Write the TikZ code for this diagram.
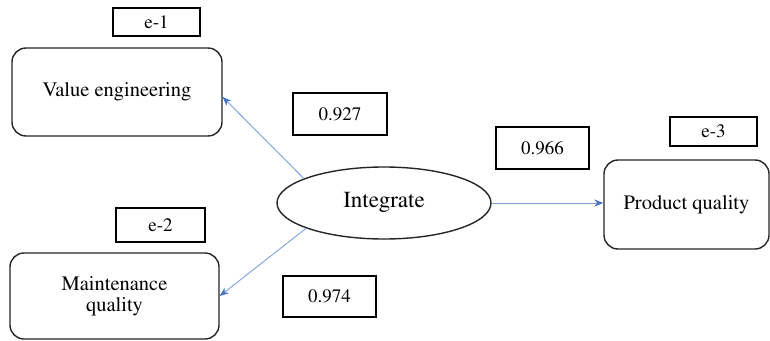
\documentclass[tikz,border=0pt]{standalone}
\usepackage[T1]{fontenc}
\usepackage{times}
\usetikzlibrary{shapes.geometric,arrows.meta,calc}
\definecolor{arrline}{RGB}{125,160,218}
\definecolor{arrhead}{RGB}{68,114,196}
\begin{document}
\begin{tikzpicture}[x=1pt,y=-1pt,
  lbl/.style={draw=black,line width=1.1pt,inner sep=0pt,font=\rmfamily\fontsize{19}{22}\selectfont},
  var/.style={draw=black!85,line width=1.4pt,rounded corners=14pt,inner sep=0pt,align=center,font=\rmfamily\fontsize{20.5}{21}\selectfont},
  lat/.style={draw=black!85,line width=1.4pt,ellipse,inner sep=0pt,font=\rmfamily\fontsize{23}{24}\selectfont},
  arr/.style={draw=arrline,line width=0.9pt,-{Stealth[length=9pt,width=7pt,fill=arrhead,color=arrhead]}}]
\useasboundingbox (0,0) rectangle (770,340);
\fill[white] (0,0) rectangle (770,340);
% error labels
\node[lbl,minimum width=87pt,minimum height=28pt] (e1) at (156.5,22) {e-1};
\node[lbl,minimum width=89pt,minimum height=34pt] (e2) at (160.5,225) {e-2};
\node[lbl,minimum width=87pt,minimum height=29pt] (e3) at (713.5,131.5) {e-3};
% coefficient labels
\node[lbl,minimum width=94pt,minimum height=42pt] (c1) at (340,114) {0.927};
\node[lbl,minimum width=93pt,minimum height=41pt] (c2) at (329.5,296.5) {0.974};
\node[lbl,minimum width=93pt,minimum height=42pt] (c3) at (542.5,148) {0.966};
% observed variables
\node[var,minimum width=210pt,minimum height=88pt] (ve) at (117,92) {Value engineering};
\node[var,minimum width=209pt,minimum height=86pt] (mq) at (114.5,296) {Maintenance\\quality};
\node[var,minimum width=165pt,minimum height=89pt] (pq) at (686.5,204.5) {Product quality};
% latent
\node[lat,minimum width=214pt,minimum height=72pt] (int) at (384,203) {Integrate};
% connectors
\coordinate (veend) at ($(ve.east)+(0,5)$);
\draw[arr] (int.163) -- (veend);
\draw[arr] (int.198) -- (mq.east);
\draw[arr] (int.east) -- (int.east -| pq.west);
\end{tikzpicture}
\end{document}
